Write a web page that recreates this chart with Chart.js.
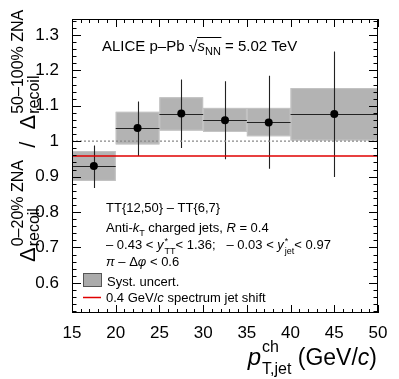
<!DOCTYPE html>
<html>
<head>
<meta charset="utf-8">
<script src="https://cdn.jsdelivr.net/npm/chart.js@4.4.1/dist/chart.umd.min.js"></script>
<style>
  html, body { margin: 0; padding: 0; background: #fff; }
  canvas { display: block; }
</style>
</head>
<body>
<canvas id="chart" width="399" height="379"></canvas>
<script>
// bins in pT,jet (GeV/c)
const binLow  = [15, 20, 25, 30, 35, 40];
const binHigh = [20, 25, 30, 35, 40, 50];
const binCenter = [17.5, 22.5, 27.5, 32.5, 37.5, 45];

// ratio values
const ratio    = [0.930, 1.037, 1.078, 1.059, 1.053, 1.077];
const statLow  = [0.868, 0.958, 0.981, 0.949, 0.922, 0.899];
const statHigh = [0.988, 1.112, 1.174, 1.169, 1.185, 1.253];
const systLow  = [0.888, 0.991, 1.030, 1.026, 1.014, 1.002];
const systHigh = [0.972, 1.083, 1.124, 1.094, 1.094, 1.150];

// reference lines
const jetShift = 0.958;
const unity = 1.0;

const xTicks = [15, 20, 25, 30, 35, 40, 45, 50];
const yTicks = [0.6, 0.7, 0.8, 0.9, 1.0, 1.1, 1.2, 1.3];

const FONT = 'Liberation Sans, Arial, Helvetica, sans-serif';
const RED = '#e00000';

// draw a text piece, return new x
function piece(ctx, x, y, txt, size, italic) {
  ctx.font = (italic ? 'italic ' : '') + size + 'px ' + FONT;
  ctx.fillText(txt, x, y);
  return x + ctx.measureText(txt).width;
}

// stacked sup / sub after a symbol
function stack(ctx, x, y, sup, sub, size, upOff, downOff) {
  let w1 = x, w2 = x;
  if (sup) w1 = piece(ctx, x, y - upOff, sup, size, false);
  if (sub) w2 = piece(ctx, x, y + downOff, sub, size, false);
  return Math.max(w1, w2);
}

const boxesAndErrors = {
  id: 'boxesAndErrors',
  beforeDatasetsDraw(chart) {
    const { ctx, scales: { x, y } } = chart;
    ctx.save();
    // systematic boxes
    for (let i = 0; i < ratio.length; i++) {
      const x0 = x.getPixelForValue(binLow[i]);
      const x1 = x.getPixelForValue(binHigh[i]);
      const y0 = y.getPixelForValue(systHigh[i]);
      const y1 = y.getPixelForValue(systLow[i]);
      ctx.fillStyle = '#b3b3b3';
      ctx.fillRect(x0, y0, x1 - x0, y1 - y0);
      ctx.strokeStyle = '#c4c4c4';
      ctx.lineWidth = 1;
      ctx.strokeRect(x0 + 0.5, y0 + 0.5, x1 - x0 - 1, y1 - y0 - 1);
    }
    // stat error bars and bin width
    ctx.strokeStyle = '#222';
    ctx.lineWidth = 1.1;
    for (let i = 0; i < ratio.length; i++) {
      const xc = Math.round(x.getPixelForValue(binCenter[i])) + 0.5;
      const yc = Math.round(y.getPixelForValue(ratio[i])) + 0.5;
      ctx.beginPath();
      ctx.moveTo(xc, y.getPixelForValue(statHigh[i]));
      ctx.lineTo(xc, y.getPixelForValue(statLow[i]));
      ctx.moveTo(x.getPixelForValue(binLow[i]), yc);
      ctx.lineTo(x.getPixelForValue(binHigh[i]), yc);
      ctx.stroke();
    }
    ctx.restore();
  }
};

const frameAndText = {
  id: 'frameAndText',
  afterDraw(chart) {
    const { ctx, chartArea: a, scales: { x, y } } = chart;
    ctx.save();
    ctx.strokeStyle = '#000';
    ctx.lineWidth = 1;
    ctx.strokeRect(a.left + 0.5, a.top + 0.5, a.right - a.left - 1, a.bottom - a.top - 1);

    // inward ticks on all four sides
    ctx.beginPath();
    for (let v = 15; v <= 50; v += 1) {
      const px = Math.round(x.getPixelForValue(v)) + 0.5;
      const len = v % 5 === 0 ? 8 : 4;
      ctx.moveTo(px, a.bottom); ctx.lineTo(px, a.bottom - len);
      ctx.moveTo(px, a.top); ctx.lineTo(px, a.top + len);
    }
    for (let k = 26; k <= 67; k++) {
      const v = k * 0.02;
      const py = Math.round(y.getPixelForValue(v)) + 0.5;
      const len = k % 5 === 0 ? 9 : 4.5;
      ctx.moveTo(a.left, py); ctx.lineTo(a.left + len, py);
      ctx.moveTo(a.right, py); ctx.lineTo(a.right - len, py);
    }
    ctx.stroke();

    ctx.fillStyle = '#000';
    ctx.textBaseline = 'alphabetic';
    ctx.textAlign = 'left';

    // header
    let cx = piece(ctx, 102, 51, 'ALICE p\u2013Pb ', 15, false);
    cx = piece(ctx, cx, 52, '\u221A', 16, false);
    const sX = cx;
    cx = piece(ctx, cx, 51, 's', 15, true);
    cx = piece(ctx, cx, 55, 'NN', 11, false);
    ctx.fillRect(sX - 0.5, 37, cx - sX + 1, 1);
    cx = piece(ctx, cx, 51, ' = 5.02 TeV', 15, false);

    // selection text
    piece(ctx, 106, 212, 'TT{12,50} \u2013 TT{6,7}', 13, false);

    cx = piece(ctx, 106, 232, 'Anti-', 13, false);
    cx = piece(ctx, cx, 232, 'k', 13, true);
    cx = piece(ctx, cx, 236, 'T', 9, false);
    cx = piece(ctx, cx, 232, ' charged jets, ', 13, false);
    cx = piece(ctx, cx, 232, 'R', 13, true);
    piece(ctx, cx, 232, ' = 0.4', 13, false);

    cx = piece(ctx, 106, 249, '\u2013 0.43 < ', 13, false);
    cx = piece(ctx, cx, 249, 'y', 13, true);
    cx = stack(ctx, cx + 1, 249, '*', 'TT', 9, 5, 5);
    cx = piece(ctx, cx, 249, '< 1.36;   \u2013 0.03 < ', 13, false);
    cx = piece(ctx, cx, 249, 'y', 13, true);
    cx = stack(ctx, cx + 1, 249, '*', 'jet', 9, 5, 5);
    piece(ctx, cx, 249, '< 0.97', 13, false);

    cx = piece(ctx, 106, 266, '\u03C0', 13, true);
    cx = piece(ctx, cx, 266, ' \u2013 \u0394', 13, false);
    cx = piece(ctx, cx, 266, '\u03C6', 13, true);
    piece(ctx, cx, 266, ' < 0.6', 13, false);

    // legend
    ctx.fillStyle = '#ababab';
    ctx.fillRect(83, 273, 19, 14);
    ctx.strokeStyle = '#555';
    ctx.strokeRect(83.5, 273.5, 18, 13);
    ctx.fillStyle = '#000';
    piece(ctx, 107, 286, 'Syst. uncert.', 13, false);
    ctx.strokeStyle = RED;
    ctx.lineWidth = 1.5;
    ctx.beginPath();
    ctx.moveTo(83, 297.5); ctx.lineTo(101, 297.5);
    ctx.stroke();
    cx = piece(ctx, 106, 302, '0.4 GeV/', 13, false);
    cx = piece(ctx, cx, 302, 'c', 13, true);
    piece(ctx, cx, 302, ' spectrum jet shift', 13, false);

    // x axis title, right aligned at axis end
    ctx.font = '23px ' + FONT;
    const wTail = ctx.measureText(' (GeV/').width;
    const wPar = ctx.measureText(')').width;
    ctx.font = 'italic 23px ' + FONT;
    const wc = ctx.measureText('c').width;
    ctx.font = '16px ' + FONT;
    const wSub = ctx.measureText('T,jet').width;
    ctx.font = 'italic 24px ' + FONT;
    const wp = ctx.measureText('p').width;
    let tx = 377 - (wp + 1 + wSub + wTail + wc + wPar);
    tx = piece(ctx, tx, 365, 'p', 24, true);
    tx = stack(ctx, tx + 1, 365, 'ch', 'T,jet', 16, 13, 9);
    tx = piece(ctx, tx, 365, ' (GeV/', 23, false);
    tx = piece(ctx, tx, 365, 'c', 23, true);
    piece(ctx, tx, 365, ')', 23, false);

    // y axis title, rotated
    ctx.save();
    ctx.translate(35, 262);
    ctx.rotate(-Math.PI / 2);
    let u = piece(ctx, 0, 0, '\u0394', 22, false);
    u = stack(ctx, u + 1, 0, '0\u201320% ZNA', 'recoil', 16, 12, 4);
    u = piece(ctx, u, 0, '  /  ', 22, false);
    u = piece(ctx, u, 0, '\u0394', 22, false);
    stack(ctx, u + 1, 0, '50\u2013100% ZNA', 'recoil', 16, 12, 4);
    ctx.restore();

    ctx.restore();
  }
};

new Chart(document.getElementById('chart'), {
  type: 'scatter',
  data: {
    datasets: [
      {
        label: 'Ratio',
        data: binCenter.map((v, i) => ({ x: v, y: ratio[i] })),
        backgroundColor: '#000',
        borderWidth: 0,
        pointRadius: 4,
        order: 0
      },
      {
        label: 'Jet shift',
        data: [{ x: 15, y: jetShift }, { x: 50, y: jetShift }],
        showLine: true,
        borderColor: RED,
        borderWidth: 1.5,
        pointRadius: 0,
        order: 1
      },
      {
        label: 'Unity',
        data: [{ x: 15, y: unity }, { x: 50, y: unity }],
        showLine: true,
        borderColor: '#888',
        borderWidth: 1.3,
        borderDash: [2, 2],
        pointRadius: 0,
        order: 2
      }
    ]
  },
  options: {
    responsive: false,
    animation: false,
    devicePixelRatio: 1,
    layout: { padding: { top: 19, right: 21, left: 0, bottom: 0 } },
    plugins: { legend: { display: false }, tooltip: { enabled: false } },
    scales: {
      x: {
        type: 'linear',
        min: 15,
        max: 50,
        grid: { display: false },
        border: { display: false },
        afterBuildTicks: s => { s.ticks = xTicks.map(v => ({ value: v })); },
        afterFit: s => { s.height = 66; },
        ticks: {
          color: '#000',
          padding: 2,
          maxRotation: 0,
          font: { family: FONT, size: 17 },
          callback: v => String(v)
        }
      },
      y: {
        type: 'linear',
        min: 0.515,
        max: 1.345,
        grid: { display: false },
        border: { display: false },
        afterBuildTicks: s => { s.ticks = yTicks.map(v => ({ value: v })); },
        afterFit: s => { s.width = 72; },
        ticks: {
          color: '#000',
          padding: 5,
          font: { family: FONT, size: 17 },
          callback: v => String(+v.toFixed(1))
        }
      }
    }
  },
  plugins: [boxesAndErrors, frameAndText]
});
</script>
</body>
</html>
